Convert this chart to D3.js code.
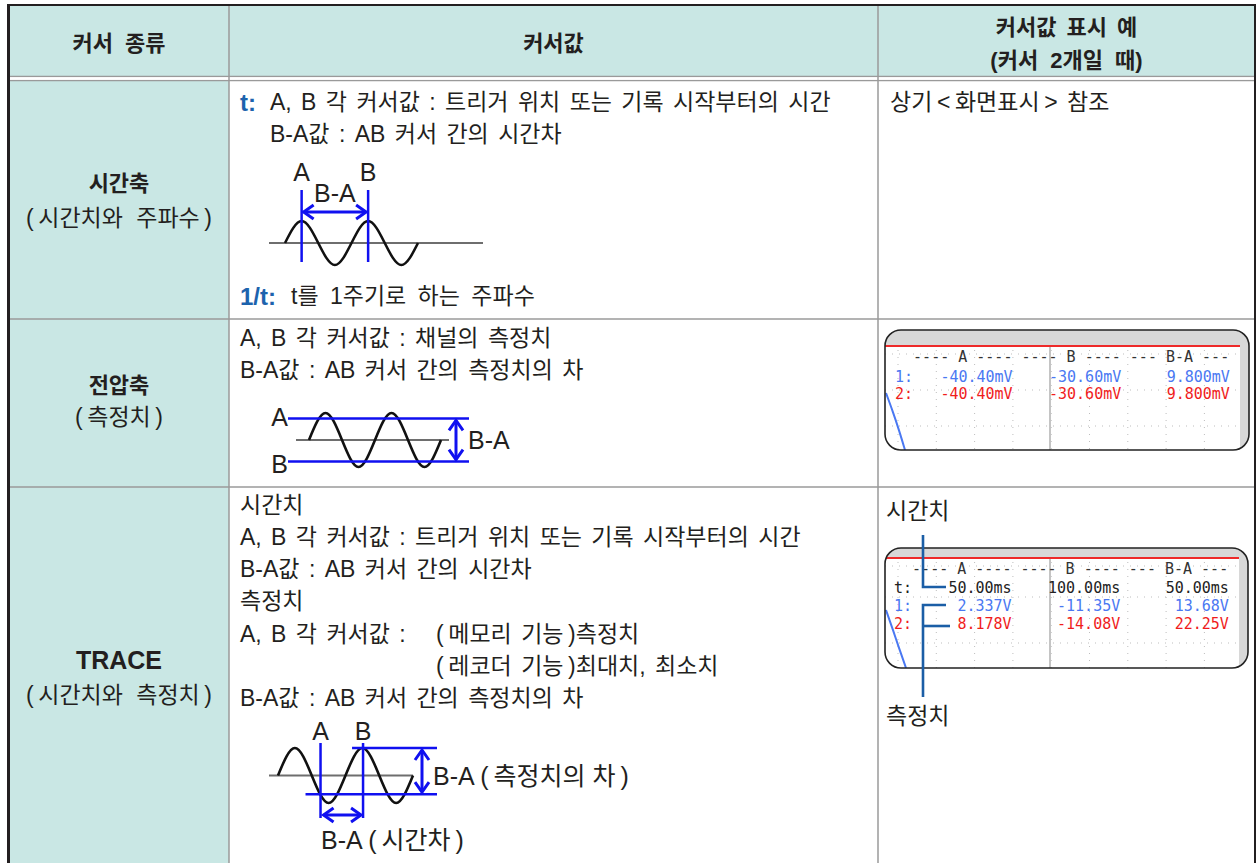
<!DOCTYPE html>
<html><head><meta charset="utf-8">
<script src="https://cdn.jsdelivr.net/npm/d3@7"></script>
<style>
html,body{margin:0;padding:0;background:#fff;}
svg{display:block;}
</style></head><body><svg id="c" width="1258" height="863"></svg>
<script>
// ---------- data ----------
const headerLabels = ["커서 종류", "커서값", "커서값 표시 예", "(커서 2개일 때)"];
const cursorKinds = ["시간축", "전압축", "TRACE"];
const cursorKindNotes = ["(\u2009시간치와 주파수\u2009)", "(\u2009측정치\u2009)", "(\u2009시간치와 측정치\u2009)"];
const timePrefixes = ["t:", "1/t:"];
const timeLines = ["A, B 각 커서값 : 트리거 위치 또는 기록 시작부터의 시간", "B-A값 : AB 커서 간의 시간차", "t를 1주기로 하는 주파수"];
const voltLines = ["A, B 각 커서값 : 채널의 측정치", "B-A값 : AB 커서 간의 측정치의 차"];
const traceLines = ["시간치", "A, B 각 커서값 : 트리거 위치 또는 기록 시작부터의 시간", "B-A값 : AB 커서 간의 시간차", "측정치", "A, B 각 커서값 :", "(\u2009메모리 기능\u2009)측정치", "(\u2009레코더 기능\u2009)최대치, 최소치", "B-A값 : AB 커서 간의 측정치의 차"];
const timeExample = "상기\u2009<\u2009화면표시\u2009> 참조";
const screenHeader = "---- A ---- ---- B ---- --- B-A ---";
const voltRowLabels = ["1:", "2:"];
const voltA = ["-40.40mV", "-40.40mV"];
const voltB = ["-30.60mV", "-30.60mV"];
const voltDiff = ["9.800mV", "9.800mV"];
const traceRowLabels = ["t:", "1:", "2:"];
const traceA = ["50.00ms", "2.337V", "8.178V"];
const traceB = ["100.00ms", "-11.35V", "-14.08V"];
const traceDiff = ["50.00ms", "13.68V", "22.25V"];
const calloutLabels = ["시간치", "측정치"];
const diagramLabels = ["A", "B", "B-A", "B-A (\u2009측정치의 차\u2009)", "B-A (\u2009시간차\u2009)"];
// sine-like wave read as knots (phase in cycles, level -1..1)
const waveKnots = [[0,0],[0.25,1],[0.5,0],[0.75,-1],[1,0],[1.25,1],[1.5,0],[1.75,-1],[2,0]];
const timeCursorPhases = [0.25, 1.25];
const voltCursorLevels = [0.8, -0.8];
const traceCursorPhases = [0.63, 1.26];
const traceCursorLevels = [1, -0.68];

// ---------- style ----------
const FONT = '"Liberation Sans","Noto Sans CJK KR",sans-serif';
const MONO = '"DejaVu Sans Mono",monospace';
const INK = "#231f20", TEAL = "#c9e7e4", GRID = "#9a9a9a", BORDER = "#231f20";
const TBLUE = "#1d63ad", DBLUE = "#1010f0", CALL = "#1b5ea6";
const SBLUE = "#4a78f2", SRED = "#f01c1c";
const BODY = 23, LBL = 25;

const svg = d3.select("#c");
const colX = [9, 229, 878, 1255];
const rowY = [5, 77, 319, 487, 863];

function txt(g, x, y, s, o = {}) {
  return g.append("text").attr("x", x).attr("y", y)
    .attr("dominant-baseline", "central")
    .attr("font-family", o.family || FONT)
    .attr("font-size", o.size || BODY)
    .attr("font-weight", o.bold ? "bold" : "normal")
    .attr("text-anchor", o.anchor || "start")
    .attr("fill", o.fill || INK)
    .style("word-spacing", (o.ws != null ? o.ws : 3) + "px")
    .style("white-space", "pre")
    .text(s);
}

// ---------- table ----------
svg.append("rect").attr("x", colX[0]).attr("y", rowY[0]).attr("width", colX[3]-colX[0]).attr("height", rowY[1]-rowY[0]).attr("fill", TEAL);
svg.append("rect").attr("x", colX[0]).attr("y", 81).attr("width", colX[1]-colX[0]).attr("height", rowY[4]-81).attr("fill", TEAL);
[76.5, 80.5].forEach(y => svg.append("line").attr("x1", colX[0]).attr("x2", colX[3]).attr("y1", y).attr("y2", y).attr("stroke", GRID).attr("stroke-width", 1.5));
svg.append("rect").attr("x", colX[0]).attr("y", 77.3).attr("width", colX[3]-colX[0]).attr("height", 2.4).attr("fill", "#fff");
[rowY[2], rowY[3]].forEach(y => svg.append("line").attr("x1", colX[0]).attr("x2", colX[3]).attr("y1", y).attr("y2", y).attr("stroke", GRID).attr("stroke-width", 1.5));
[colX[1], colX[2]].forEach(x => svg.append("line").attr("x1", x).attr("x2", x).attr("y1", rowY[0]).attr("y2", rowY[4]).attr("stroke", GRID).attr("stroke-width", 1.5));
svg.append("rect").attr("x", 7).attr("y", 4).attr("width", 1249).attr("height", 2).attr("fill", BORDER);
svg.append("rect").attr("x", 7).attr("y", 4).attr("width", 3).attr("height", rowY[4]-4).attr("fill", BORDER);
svg.append("rect").attr("x", 1254).attr("y", 4).attr("width", 2).attr("height", rowY[4]-4).attr("fill", BORDER);

// header
txt(svg, (colX[0]+colX[1])/2, 43, headerLabels[0], {bold: true, anchor: "middle", size: 22, ws: 6});
txt(svg, (colX[1]+colX[2])/2, 43, headerLabels[1], {bold: true, anchor: "middle", size: 22});
txt(svg, (colX[2]+colX[3])/2, 27, headerLabels[2], {bold: true, anchor: "middle", size: 22, ws: 4});
txt(svg, (colX[2]+colX[3])/2, 60, headerLabels[3], {bold: true, anchor: "middle", size: 22, ws: 6});

// left column
const kindY = [[183, 218], [385, 417], [660, 695]];
cursorKinds.forEach((k, i) => {
  txt(svg, (colX[0]+colX[1])/2, kindY[i][0], k, {bold: true, anchor: "middle", size: i === 2 ? 25 : 22});
  txt(svg, (colX[0]+colX[1])/2, kindY[i][1], cursorKindNotes[i], {anchor: "middle", ws: 7});
});

// ---------- row 1 : time axis ----------
txt(svg, 240, 102, timePrefixes[0], {bold: true, fill: TBLUE, size: 24});
txt(svg, 270, 102, timeLines[0]);
txt(svg, 270, 134, timeLines[1]);
txt(svg, 240, 296, timePrefixes[1], {bold: true, fill: TBLUE, size: 24});
txt(svg, 291, 296, timeLines[2], {ws: 5});
txt(svg, 890, 102, timeExample);

const line = (xs, ys) => d3.line().x(d => xs(d[0])).y(d => ys(d[1])).curve(d3.curveNatural);

function arrowHead(g, x, y, dx, dy) {
  const L = 10, Wd = 7;
  const bx = x - dx*L, by = y - dy*L;
  const px = -dy, py = dx;
  g.append("path").attr("d", `M${bx+px*Wd},${by+py*Wd}L${x},${y}L${bx-px*Wd},${by-py*Wd}`)
    .attr("fill", "none").attr("stroke", DBLUE).attr("stroke-width", 3);
}
function dblArrow(g, x1, y1, x2, y2) {
  g.append("line").attr("x1", x1).attr("y1", y1).attr("x2", x2).attr("y2", y2).attr("stroke", DBLUE).attr("stroke-width", 3);
  const L = Math.hypot(x2-x1, y2-y1), ux = (x2-x1)/L, uy = (y2-y1)/L;
  arrowHead(g, x2, y2, ux, uy);
  arrowHead(g, x1, y1, -ux, -uy);
}
function blue(g, x1, y1, x2, y2) {
  g.append("line").attr("x1", x1).attr("y1", y1).attr("x2", x2).attr("y2", y2).attr("stroke", DBLUE).attr("stroke-width", 2.5);
}
function axisLine(g, x1, x2, y) {
  g.append("line").attr("x1", x1).attr("x2", x2).attr("y1", y).attr("y2", y).attr("stroke", "#6e6e6e").attr("stroke-width", 2);
}
function wave(g, xs, ys) {
  g.append("path").attr("d", line(xs, ys)(waveKnots)).attr("fill", "none").attr("stroke", "#111").attr("stroke-width", 2.6);
}

{
  const g = svg.append("g");
  const xs = d3.scaleLinear().domain([0, 2]).range([285, 418]);
  const ys = d3.scaleLinear().domain([-1, 1]).range([265, 221]);
  axisLine(g, 269, 483, ys(0));
  wave(g, xs, ys);
  timeCursorPhases.forEach(p => blue(g, xs(p), 190, xs(p), 262));
  dblArrow(g, xs(timeCursorPhases[0]) + 2, 212, xs(timeCursorPhases[1]) - 2, 212);
  txt(g, xs(timeCursorPhases[0]), 172, diagramLabels[0], {anchor: "middle", size: LBL});
  txt(g, xs(timeCursorPhases[1]), 172, diagramLabels[1], {anchor: "middle", size: LBL});
  txt(g, (xs(timeCursorPhases[0]) + xs(timeCursorPhases[1]))/2, 193, diagramLabels[2], {anchor: "middle", size: LBL});
}

// ---------- row 2 : voltage axis ----------
txt(svg, 240, 338, voltLines[0]);
txt(svg, 240, 370, voltLines[1]);
{
  const g = svg.append("g");
  const xs = d3.scaleLinear().domain([0, 2]).range([309, 441]);
  const ys = d3.scaleLinear().domain([-1, 1]).range([467, 413]);
  axisLine(g, 296, 449, ys(0));
  wave(g, xs, ys);
  voltCursorLevels.forEach(v => blue(g, 288, ys(v), 469, ys(v)));
  dblArrow(g, 456, ys(voltCursorLevels[0]) + 2, 456, ys(voltCursorLevels[1]) - 2);
  txt(g, 288, ys(voltCursorLevels[0]) - 1, diagramLabels[0], {anchor: "end", size: LBL});
  txt(g, 288, ys(voltCursorLevels[1]) + 2, diagramLabels[1], {anchor: "end", size: LBL});
  txt(g, 468, ys(0), diagramLabels[2], {size: LBL});
}

// ---------- row 3 : trace ----------
const traceY = [505, 537, 569, 601, 634, 634, 666, 698];
traceLines.forEach((s, i) => {
  const x = (i === 5 || i === 6) ? 436 : 240;
  txt(svg, x, traceY[i], s);
});
{
  const g = svg.append("g");
  const xs = d3.scaleLinear().domain([0, 2]).range([278, 413]);
  const ys = d3.scaleLinear().domain([-1, 1]).range([803, 748]);
  axisLine(g, 269, 413, ys(0));
  wave(g, xs, ys);
  const ax = xs(traceCursorPhases[0]), bx = xs(traceCursorPhases[1]);
  blue(g, ax, 743, ax, 818);
  blue(g, bx, 743, bx, 818);
  blue(g, bx - 11, ys(traceCursorLevels[0]), 437, ys(traceCursorLevels[0]));
  blue(g, ax - 15, ys(traceCursorLevels[1]), 437, ys(traceCursorLevels[1]));
  dblArrow(g, 422, ys(traceCursorLevels[0]) + 2, 422, ys(traceCursorLevels[1]) - 2);
  dblArrow(g, ax + 3, 815, bx - 2, 815);
  txt(g, ax, 731, diagramLabels[0], {anchor: "middle", size: LBL});
  txt(g, bx, 731, diagramLabels[1], {anchor: "middle", size: LBL});
  txt(g, 433, 776, diagramLabels[3], {size: LBL, ws: 0});
  txt(g, 321, 840, diagramLabels[4], {size: LBL, ws: 0});
}

// ---------- screen displays ----------
function screen(x0, y0, x1, y1, bandY, opts) {
  const g = svg.append("g");
  const id = "clip" + Math.round(y0);
  g.append("clipPath").attr("id", id).append("rect").attr("x", x0).attr("y", y0).attr("width", x1-x0).attr("height", y1-y0).attr("rx", 16);
  const inner = g.append("g").attr("clip-path", `url(#${id})`);
  inner.append("rect").attr("x", x0).attr("y", y0).attr("width", x1-x0).attr("height", y1-y0).attr("fill", "#d8d8d8");
  inner.append("rect").attr("x", x0).attr("y", bandY).attr("width", x1-x0-9).attr("height", y1-bandY).attr("fill", "#fff");
  inner.append("line").attr("x1", x0).attr("x2", x1-9).attr("y1", bandY).attr("y2", bandY).attr("stroke", "#ee2a2a").attr("stroke-width", 2);
  const gx = d3.range(0, 9).map(i => x0 + 13 + i*38.3);
  gx.forEach(x => inner.append("line").attr("x1", x).attr("x2", x).attr("y1", bandY + 4).attr("y2", y1).attr("stroke", "#bdbdbd").attr("stroke-width", 1).attr("stroke-dasharray", "1,6"));
  opts.gridY.forEach(y => inner.append("line").attr("x1", x0).attr("x2", x1-9).attr("y1", y).attr("y2", y).attr("stroke", "#bdbdbd").attr("stroke-width", 1).attr("stroke-dasharray", "1,6"));
  inner.append("line").attr("x1", 1050).attr("x2", 1050).attr("y1", bandY + 1).attr("y2", y1).attr("stroke", "#c4c4c4").attr("stroke-width", 2);
  inner.append("path").attr("d", d3.line().curve(d3.curveBasis)(opts.trace)).attr("fill", "none").attr("stroke", SBLUE).attr("stroke-width", 2);
  g.append("rect").attr("x", x0).attr("y", y0).attr("width", x1-x0).attr("height", y1-y0).attr("rx", 16).attr("fill", "none").attr("stroke", "#222").attr("stroke-width", 1.6);
  return g;
}
function monoText(g, x, y, s, fill, anchor) {
  g.append("text").attr("x", x).attr("y", y)
    .attr("dominant-baseline", "central").attr("font-family", MONO).attr("font-size", 15)
    .attr("text-anchor", anchor || "start").attr("fill", fill).style("white-space", "pre").text(s);
}
const CW = 9.05;
{
  const g = screen(885, 330, 1249, 450, 346, {gridY: [354, 390, 426], trace: [[886, 393], [893, 412], [899, 430], [905, 450]]});
  const ox = 895;
  monoText(g, ox + 2*CW, 357, screenHeader, "#333");
  const rows = [377, 394], cols = [SBLUE, SRED];
  voltRowLabels.forEach((lab, i) => {
    monoText(g, ox, rows[i], lab, cols[i]);
    monoText(g, ox + 13*CW, rows[i], voltA[i], cols[i], "end");
    monoText(g, ox + 25*CW, rows[i], voltB[i], cols[i], "end");
    monoText(g, ox + 37*CW, rows[i], voltDiff[i], cols[i], "end");
  });
}
{
  const g = screen(885, 548, 1248, 668, 558, {gridY: [566, 597, 643], trace: [[886, 610], [893, 630], [899, 648], [906, 668]]});
  const ox = 894;
  monoText(g, ox + 2*CW, 569, screenHeader, "#333");
  const rows = [588, 606, 624], cols = ["#222", SBLUE, SRED];
  traceRowLabels.forEach((lab, i) => {
    monoText(g, ox, rows[i], lab, cols[i]);
    monoText(g, ox + 13*CW, rows[i], traceA[i], cols[i], "end");
    monoText(g, ox + 25*CW, rows[i], traceB[i], cols[i], "end");
    monoText(g, ox + 37*CW, rows[i], traceDiff[i], cols[i], "end");
  });
  const c = svg.append("g").attr("fill", "none").attr("stroke", CALL).attr("stroke-width", 2.6);
  c.append("path").attr("d", "M923,535V587H946");
  c.append("path").attr("d", "M946,605H923V697");
  c.append("path").attr("d", "M923,626H950");
  txt(svg, 886, 511, calloutLabels[0]);
  txt(svg, 886, 716, calloutLabels[1]);
}
</script></body></html>
